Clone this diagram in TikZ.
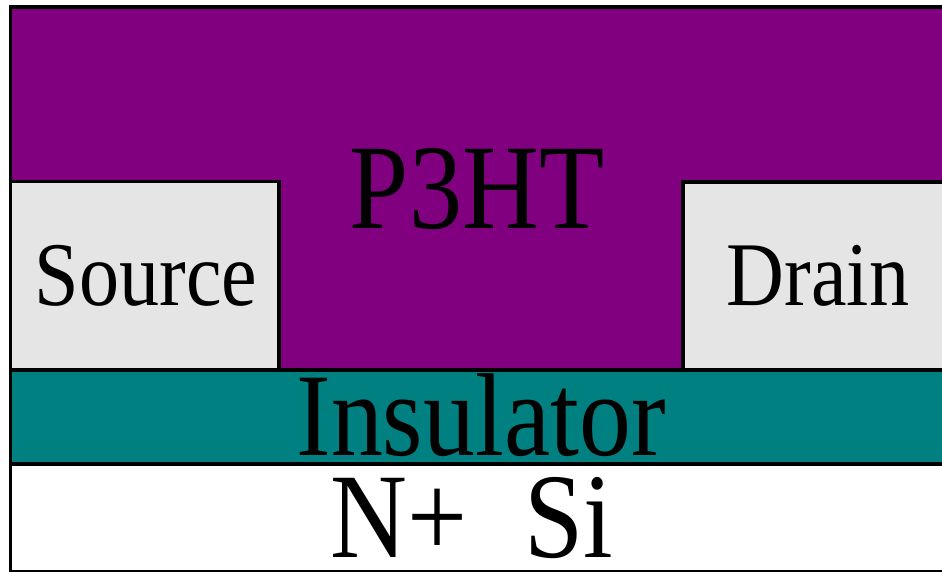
\documentclass[tikz,border=0pt]{standalone}
\usepackage{fontspec}
\setmainfont{Liberation Serif}[FakeStretch=0.88]
\usepackage{tikz}
\usetikzlibrary{positioning}
\usepackage{xcolor}

\definecolor{polymer}{HTML}{800080}
\definecolor{oxide}{HTML}{008080}
\definecolor{metal}{HTML}{E5E5E5}

\begin{document}
\begin{tikzpicture}[
    x=1pt, y=-1pt,
    layer/.style={draw=black, line width=3.8pt},
    bigtext/.style={anchor=base, inner sep=0pt, text depth=0pt, font=\fontsize{121}{121}\selectfont},
    smalltext/.style={anchor=base, inner sep=0pt, text depth=0pt, font=\fontsize{91}{91}\selectfont},
]

\useasboundingbox (0,0) rectangle (942,571);
\clip (0,0) rectangle (942,571);

% layers
\fill[polymer] (10.5,7) rectangle (946,370);
\filldraw[layer, fill=metal] (10.5,181.5) rectangle (279,370);
\filldraw[layer, fill=metal] (683,182) rectangle (946,370);
\filldraw[layer, fill=oxide] (10.5,370) rectangle (946,464);
\filldraw[layer, fill=white] (10.5,464) rectangle (946,572);
\draw[layer] (10.5,7) rectangle (946,572);

% labels
\node[bigtext] (p3ht) at (477,228) {P3HT};
\node[smalltext] (source) at (146,305) {Source};
\node[smalltext] (drain) at (818,305) {Drain};
\node[bigtext, font=\fontsize{118}{118}\selectfont] (insulator) at (481,455) {Insulator};
\node[bigtext] (substrate) at (472,557) {N+\ \ \kern4pt Si};

\end{tikzpicture}
\end{document}
